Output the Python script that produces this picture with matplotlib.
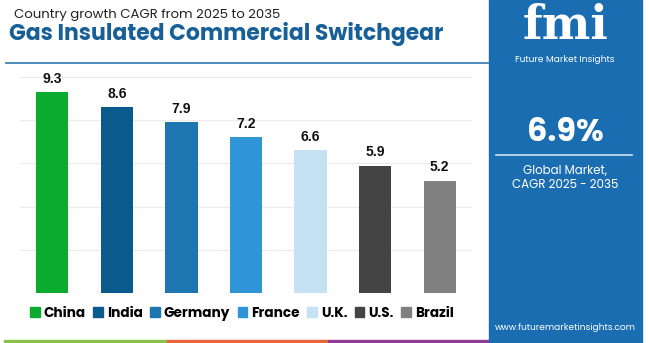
import matplotlib.pyplot as plt
from matplotlib.patches import Rectangle

countries = ['China', 'India', 'Germany', 'France', 'U.K.', 'U.S.', 'Brazil']
cagr = [9.3, 8.6, 7.9, 7.2, 6.6, 5.9, 5.2]
colors = ['#0aab2e', '#0b5a8c', '#1d76b0', '#3095d6', '#c4e2f3', '#444444', '#808080']
global_cagr = '6.9%'

plt.rcParams['font.family'] = ['Poppins', 'Lato', 'DejaVu Sans']

fig = plt.figure(figsize=(6.5, 3.43), dpi=100)
W, H = 650, 343

def fx(px):
    return px / W

def fy(py):
    return 1 - py / H

# chart area
ax = fig.add_axes([fx(20), fy(293), fx(472) - fx(20), fy(77) - fy(293)])
x = range(len(countries))
ax.bar(x, cagr, width=0.5, color=colors, zorder=3)
for i, v in enumerate(cagr):
    ax.text(i, v + 0.3, f'{v}', ha='center', va='bottom', fontsize=10,
            fontweight='bold', color='#111111', family='Liberation Sans')
ax.set_xlim(-0.5, 6.5)
ax.set_ylim(0, 10)
ax.set_yticks([0, 2, 4, 6, 8, 10])
ax.yaxis.grid(True, color='#ececec', linewidth=1, zorder=0)
ax.set_xticks([])
ax.tick_params(left=False, labelleft=False)
for s in ax.spines.values():
    s.set_visible(False)

# titles
fig.text(fx(14), fy(15), 'Country growth CAGR from 2025 to 2035', fontsize=9.5,
         color='#222222', va='center', ha='left')
fig.text(fx(9), fy(34), 'Gas Insulated Commercial Switchgear', fontsize=15.8,
         fontweight='bold', color='#175f97', va='center', ha='left')
fig.add_artist(plt.Line2D([fx(6), fx(489)], [fy(63), fy(63)], color='#2e77ad',
                          linewidth=1.2))

# legend
handles = [Rectangle((0, 0), 1, 1, color=c) for c in colors]
fig.legend(handles, countries, loc='center', bbox_to_anchor=(fx(242), fy(314)),
           ncol=7, frameon=False, handlelength=0.7, handleheight=0.7,
           handletextpad=0.3, columnspacing=0.55,
           prop={'weight': 'bold', 'size': 9.8})

# bottom strips
for x0, x1, c in [(4, 167, '#8bc34a'), (167, 328, '#e8673a'), (328, 491, '#8e3b91')]:
    fig.add_artist(Rectangle((fx(x0), 0), fx(x1) - fx(x0), fy(340), color=c,
                             transform=fig.transFigure))

# right panel
fig.add_artist(Rectangle((fx(489), 0), fx(642) - fx(489), 1, color='#1b6db1',
                         transform=fig.transFigure))
cx = fx(565)
fig.text(cx, fy(26), 'fmi', fontsize=33, fontweight='bold', color='white',
         ha='center', va='center', family='DejaVu Serif')
fig.text(cx, fy(60), 'Future Market Insights', fontsize=6.5, color='white',
         ha='center', va='center')
fig.text(cx, fy(133), global_cagr, fontsize=23, fontweight='bold', color='white',
         ha='center', va='center')
fig.add_artist(plt.Line2D([fx(496), fx(632)], [fy(155), fy(155)], color='#cfe3f3',
                          linewidth=1.2))
fig.text(cx, fy(171), 'Global Market,', fontsize=8.5, color='white',
         ha='center', va='center')
fig.text(cx, fy(185), 'CAGR 2025 - 2035', fontsize=8.5, color='white',
         ha='center', va='center')
fig.text(cx, fy(328), 'www.futuremarketinsights.com', fontsize=6.5, color='white',
         ha='center', va='center')

fig.savefig('out.png', dpi=100)
